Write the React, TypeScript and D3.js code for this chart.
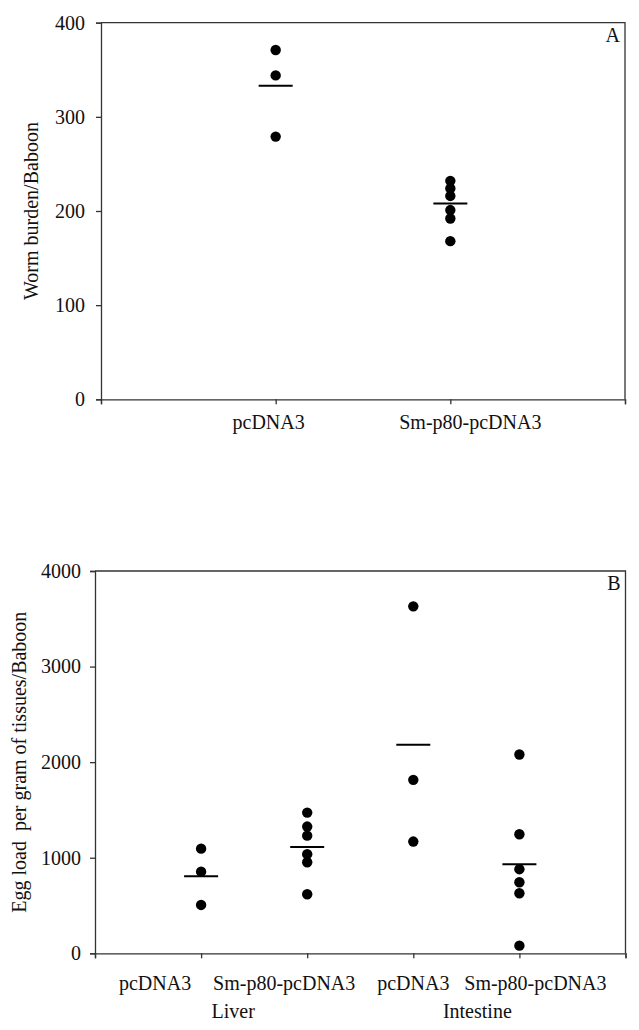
import { useEffect, useRef } from 'react';
import * as d3 from 'd3';

// Panel A: worm burden per baboon
const wormGroups = ['pcDNA3', 'Sm-p80-pcDNA3'];
const wormPcDNA3 = [371, 344, 279];
const wormSmP80 = [232, 224, 216, 201, 192, 168];
const wormMeans = [333, 208];
const wormTicks = [0, 100, 200, 300, 400];

// Panel B: egg load per gram of tissue per baboon
const eggGroups = ['pcDNA3', 'Sm-p80-pcDNA3', 'pcDNA3', 'Sm-p80-pcDNA3'];
const tissues = ['Liver', 'Intestine'];
const eggLiverPcDNA3 = [1095, 854, 506];
const eggLiverSmP80 = [1472, 1326, 1231, 1037, 953, 618];
const eggIntPcDNA3 = [3630, 1815, 1169];
const eggIntSmP80 = [2080, 1246, 880, 743, 628, 80];
const eggMeans = [806, 1113, 2181, 932];
const eggTicks = [0, 1000, 2000, 3000, 4000];

const FONT = "'Liberation Serif', 'Times New Roman', serif";

export default function App() {
  const svgRef = useRef(null);

  useEffect(() => {
    const svg = d3.select(svgRef.current);
    svg.selectAll('*').remove();

    const drawPanel = (opts) => {
      const { x, y, yTicks, groups, means, labelDx, labelY, tag, labelOffset, title, titleX } = opts;
      const g = svg.append('g');
      const [x0, x1] = x.range();
      const [yb, yt] = y.range();

      // frame top / right
      g.append('path')
        .attr('d', `M${x0},${yt}H${x1}V${yb}`)
        .attr('fill', 'none')
        .attr('stroke', '#333')
        .attr('stroke-width', 1.3);

      const yAxis = g.append('g')
        .attr('transform', `translate(${x0},0)`)
        .call(d3.axisLeft(y).tickValues(yTicks).tickSize(5).tickPadding(labelOffset).tickFormat(d3.format('d')))
        .attr('font-family', FONT)
        .attr('font-size', 20);
      yAxis.select('.domain').attr('stroke', '#333').attr('stroke-width', 1.3);
      yAxis.selectAll('line').attr('stroke', '#333').attr('stroke-width', 1.3);
      yAxis.selectAll('text')
        .style('font-family', FONT)
        .style('font-size', '20px')
        .attr('fill', '#111');

      const xAxis = g.append('g')
        .attr('transform', `translate(0,${yb})`)
        .call(d3.axisBottom(x).tickValues(d3.range(0, groups.length + 2)).tickSize(5).tickFormat(() => ''));
      xAxis.select('.domain').attr('stroke', '#333').attr('stroke-width', 1.3);
      xAxis.selectAll('line').attr('stroke', '#333').attr('stroke-width', 1.3);

      g.selectAll('.cat')
        .data(groups)
        .enter()
        .append('text')
        .attr('x', (d, i) => x(i + 1) + labelDx[i])
        .attr('y', labelY)
        .attr('text-anchor', 'middle')
        .style('font-family', FONT)
        .style('font-size', '20px')
        .attr('fill', '#111')
        .text(d => d);

      opts.series.forEach((vals, i) => {
        g.selectAll(null)
          .data(vals)
          .enter()
          .append('circle')
          .attr('cx', x(i + 1))
          .attr('cy', d => y(d))
          .attr('r', 5.2)
          .attr('fill', '#000');
      });

      g.selectAll('.mean')
        .data(means)
        .enter()
        .append('line')
        .attr('x1', (d, i) => x(i + 1) - 17)
        .attr('x2', (d, i) => x(i + 1) + 17)
        .attr('y1', d => y(d))
        .attr('y2', d => y(d))
        .attr('stroke', '#000')
        .attr('stroke-width', 2);

      g.append('text')
        .attr('x', x1 - 5)
        .attr('y', yt + 19)
        .attr('text-anchor', 'end')
        .style('font-family', FONT)
        .style('font-size', '20px')
        .attr('fill', '#111')
        .text(tag);

      g.append('text')
        .attr('transform', `translate(${titleX},${(yb + yt) / 2}) rotate(-90)`)
        .attr('text-anchor', 'middle')
        .style('font-family', FONT)
        .style('font-size', '20px')
        .attr('fill', '#111')
        .style('white-space', 'pre')
        .text(title);

      return g;
    };

    // Panel A
    const xA = d3.scaleLinear().domain([0, wormGroups.length + 1]).range([101, 625]);
    const yA = d3.scaleLinear().domain([0, 400]).range([399.3, 22.7]);
    drawPanel({
      x: xA,
      y: yA,
      yTicks: wormTicks,
      groups: wormGroups,
      series: [wormPcDNA3, wormSmP80],
      means: wormMeans,
      labelDx: [-7, 20],
      labelY: 429,
      tag: 'A',
      labelOffset: 11,
      title: 'Worm burden/Baboon',
      titleX: 38
    });

    // Panel B
    const xB = d3.scaleLinear().domain([0, eggGroups.length + 1]).range([95, 625.5]);
    const yB = d3.scaleLinear().domain([0, 4000]).range([953.3, 571]);
    const gB = drawPanel({
      x: xB,
      y: yB,
      yTicks: eggTicks,
      groups: eggGroups,
      series: [eggLiverPcDNA3, eggLiverSmP80, eggIntPcDNA3, eggIntSmP80],
      means: eggMeans,
      labelDx: [-46, -23, 0, 16],
      labelY: 990,
      tag: 'B',
      labelOffset: 9,
      title: 'Egg load  per gram of tissues/Baboon',
      titleX: 26
    });

    // tissue labels under the group names
    const tissueDx = [-21, 11];
    gB.selectAll('.tissue')
      .data(tissues)
      .enter()
      .append('text')
      .attr('x', (d, i) => xB(1.5 + i * 2) + tissueDx[i])
      .attr('y', 1018)
      .attr('text-anchor', 'middle')
      .style('font-family', FONT)
      .style('font-size', '20px')
      .attr('fill', '#111')
      .text(d => d);
  }, []);

  return (
    <>
      <style>{'body{margin:0;background:#fff}'}</style>
      <svg
        ref={svgRef}
        width={639}
        height={1030}
        style={{ display: 'block', background: '#fff' }}
      />
    </>
  );
}
